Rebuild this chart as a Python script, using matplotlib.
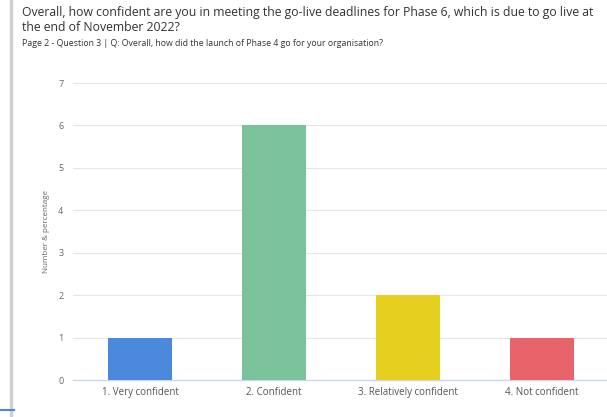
import numpy as np
import matplotlib.pyplot as plt
from matplotlib.lines import Line2D

plt.rcParams['font.family'] = ['Open Sans', 'DejaVu Sans']

# data
categories = ["1. Very confident", "2. Confident", "3. Relatively confident", "4. Not confident"]
counts = [1, 6, 2, 1]
colors = ["#4a89dc", "#7ac29a", "#e6cf1f", "#e8636a"]
yticks = [0, 1, 2, 3, 4, 5, 6, 7]

title = ("Overall, how confident are you in meeting the go-live deadlines for Phase 6, which is due to go live at\n"
         "the end of November 2022?")
subtitle = "Page 2 - Question 3 | Q: Overall, how did the launch of Phase 4 go for your organisation?"

W, H = 607, 417
fig = plt.figure(figsize=(W / 100, H / 100), dpi=100)
ax = fig.add_axes([73 / W, 1 - 380 / H, (609 - 73) / W, (380 - 83) / H])

x = np.arange(len(categories))
ax.bar(x, counts, width=0.48, color=colors, zorder=3)

ax.set_xlim(-0.5, 3.5)
ax.set_ylim(0, 7)
ax.set_yticks(yticks)
ax.set_xticks(x)
ax.set_xticklabels(categories, fontsize=7, color="#555555")
ax.tick_params(axis="y", labelsize=6.5, colors="#666666", length=0, pad=7)
ax.tick_params(axis="x", length=0, pad=5)
ax.grid(axis="y", color="#e6e6e6", linewidth=0.8, zorder=0)
for s in ["top", "right", "left"]:
    ax.spines[s].set_visible(False)
ax.spines["bottom"].set_color("#ccd6eb")
ax.spines["bottom"].set_linewidth(1)
ax.set_ylabel("Number & percentage", fontsize=5.8, color="#666666", labelpad=6)

fig.text(22 / W, 1 - 6 / H, title, fontsize=8.8, color="#333333", va="top", ha="left", linespacing=1.2)
fig.text(22 / W, 1 - 39 / H, subtitle, fontsize=6.3, color="#333333", va="top", ha="left")

# page border shadow on the left
fig.add_artist(Line2D([11 / W, 11 / W], [0, 1], transform=fig.transFigure, color="#d0d0d0", linewidth=2.5))
fig.add_artist(Line2D([0, 14 / W], [1 - 410 / H, 1 - 410 / H], transform=fig.transFigure, color="#4a89dc", linewidth=1.5))

fig.savefig("out.png", dpi=100)
